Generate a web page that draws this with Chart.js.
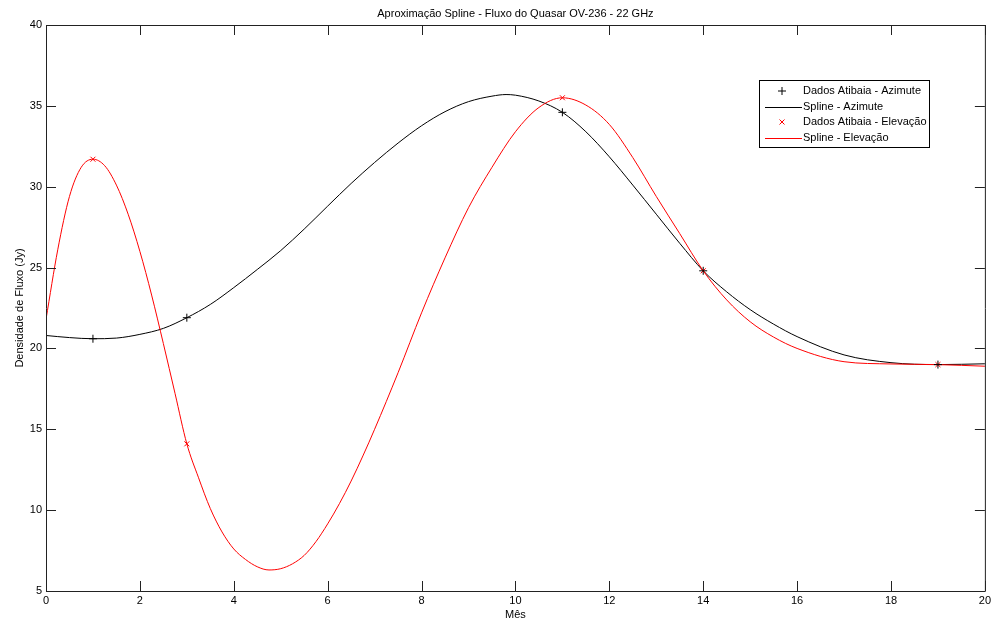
<!DOCTYPE html>
<html>
<head>
<meta charset="utf-8">
<script src="https://cdn.jsdelivr.net/npm/chart.js@4/dist/chart.umd.min.js"></script>
<style>
  html, body { margin: 0; padding: 0; background: #fff; }
  #wrap { width: 994px; height: 626px; }
</style>
</head>
<body>
<div id="wrap"><canvas id="c" width="994" height="626"></canvas></div>
<script>
// ---- data ----
const chartTitle = 'Aproximação Spline - Fluxo do Quasar OV-236 - 22 GHz';
const xTitle = 'Mês';
const yTitle = 'Densidade de Fluxo (Jy)';

const dataMonths = [1, 3, 11, 14, 19];
const dataAzimute = [20.6, 21.9, 34.6, 24.8, 19.0];
const dataElevacao = [31.7, 14.1, 35.5, 24.8, 19.0];

const splineXAz = [0,0.5,1,1.5,2,2.5,3,3.5,4,4.5,5,5.5,6,6.5,7,7.5,8,8.5,9,9.5,9.8,10,10.5,11,11.5,12,12.5,13,13.5,14,14.5,15,15.5,16,17,18,19,20];
const splineYAz = [20.80,20.67,20.60,20.64,20.87,21.24,21.90,22.72,23.76,24.88,26.05,27.38,28.8,30.2,31.5,32.7,33.77,34.64,35.26,35.6,35.7,35.66,35.3,34.6,33.4,31.85,30.1,28.3,26.5,24.8,23.5,22.4,21.5,20.73,19.6,19.12,19.0,19.05];

const splineXEl = [0,0.25,0.5,0.75,1,1.25,1.5,1.75,2,2.25,2.5,2.75,3,3.25,3.5,3.75,4,4.25,4.5,4.75,5,5.25,5.5,5.75,6,6.25,6.5,6.75,7,7.5,8,8.5,9,9.5,10,10.5,11,11.5,12,12.5,13,13.5,14,14.5,15,15.5,16,17,18,19,20];
const splineYEl = [21.8,26.1,29.4,31.2,31.7,31.3,30.1,28.3,26.0,23.3,20.3,17.2,14.1,12.0,10.1,8.65,7.6,6.95,6.5,6.3,6.38,6.68,7.2,8.05,9.15,10.4,11.8,13.35,15.0,18.5,22.2,25.6,28.7,31.2,33.4,34.9,35.5,35.05,33.85,31.8,29.4,27.1,24.8,23.0,21.65,20.7,20.0,19.18,19.04,19.0,18.9];

const seriesLabels = ['Dados Atibaia - Azimute', 'Spline - Azimute', 'Dados Atibaia - Elevação', 'Spline - Elevação'];

const xTicks = [0,2,4,6,8,10,12,14,16,18,20];
const yTicks = [5,10,15,20,25,30,35,40];

// ---- build ----
const pts = (xs, ys) => xs.map((x, i) => ({ x: x, y: ys[i] }));
const FONT = '"Liberation Sans", Arial, sans-serif';

const matlabPlugin = {
  id: 'matlabDecor',
  afterDraw(chart) {
    const { ctx, chartArea: a, scales: { x, y } } = chart;
    ctx.save();
    ctx.strokeStyle = '#222';
    ctx.lineWidth = 1;
    // box
    ctx.beginPath();
    ctx.moveTo(a.left + 0.5, a.top + 0.5);
    ctx.lineTo(a.right + 0.5, a.top + 0.5);
    ctx.lineTo(a.right + 0.5, a.bottom + 0.5);
    ctx.lineTo(a.left + 0.5, a.bottom + 0.5);
    ctx.closePath();
    ctx.stroke();
    // inward ticks
    const TL = 10;
    ctx.beginPath();
    xTicks.forEach(v => {
      const px = Math.round(x.getPixelForValue(v)) + 0.5;
      ctx.moveTo(px, a.bottom); ctx.lineTo(px, a.bottom - TL);
      ctx.moveTo(px, a.top); ctx.lineTo(px, a.top + TL);
    });
    yTicks.forEach(v => {
      const py = Math.round(y.getPixelForValue(v)) + 0.5;
      ctx.moveTo(a.left, py); ctx.lineTo(a.left + TL, py);
      ctx.moveTo(a.right, py); ctx.lineTo(a.right - TL, py);
    });
    ctx.stroke();
    // title
    ctx.fillStyle = '#000';
    ctx.font = '11px ' + FONT;
    ctx.textAlign = 'center';
    ctx.textBaseline = 'alphabetic';
    ctx.fillText(chartTitle, (a.left + a.right) / 2, 17);
    // legend
    const lx = 759, ly = 80, lw = 170, lh = 67;
    ctx.fillStyle = '#fff';
    ctx.fillRect(lx, ly, lw, lh);
    ctx.strokeStyle = '#000';
    ctx.strokeRect(lx + 0.5, ly + 0.5, lw, lh);
    const rows = [91, 106.5, 122, 137.5];
    const ds = chart.data.datasets;
    ds.forEach((d, i) => {
      const ry = rows[i];
      const cx = 782;
      ctx.strokeStyle = d.borderColor;
      ctx.lineWidth = 1;
      ctx.beginPath();
      if (d.showLine === false) {
        if (d.pointStyle === 'cross') {
          ctx.moveTo(cx - 4, ry); ctx.lineTo(cx + 4, ry);
          ctx.moveTo(cx, ry - 4); ctx.lineTo(cx, ry + 4);
        } else {
          ctx.moveTo(cx - 2.5, ry - 2.5); ctx.lineTo(cx + 2.5, ry + 2.5);
          ctx.moveTo(cx - 2.5, ry + 2.5); ctx.lineTo(cx + 2.5, ry - 2.5);
        }
      } else {
        ctx.moveTo(765, Math.round(ry) + 0.5); ctx.lineTo(802, Math.round(ry) + 0.5);
      }
      ctx.stroke();
      ctx.fillStyle = '#000';
      ctx.textAlign = 'left';
      ctx.textBaseline = 'middle';
      ctx.fillText(d.label, 803, ry);
    });
    ctx.restore();
  }
};

new Chart(document.getElementById('c'), {
  type: 'scatter',
  data: {
    datasets: [
      {
        label: seriesLabels[0],
        data: pts(dataMonths, dataAzimute),
        showLine: false,
        pointStyle: 'cross',
        pointRadius: 4,
        borderColor: '#000',
        backgroundColor: '#000',
        borderWidth: 1,
        order: 0
      },
      {
        label: seriesLabels[1],
        data: pts(splineXAz, splineYAz),
        showLine: true,
        pointRadius: 0,
        borderColor: '#000',
        backgroundColor: '#000',
        borderWidth: 1,
        cubicInterpolationMode: 'monotone',
        order: 2
      },
      {
        label: seriesLabels[2],
        data: pts(dataMonths, dataElevacao),
        showLine: false,
        pointStyle: 'crossRot',
        pointRadius: 3.5,
        borderColor: '#ff0000',
        backgroundColor: '#ff0000',
        borderWidth: 1,
        order: 0
      },
      {
        label: seriesLabels[3],
        data: pts(splineXEl, splineYEl),
        showLine: true,
        pointRadius: 0,
        borderColor: '#ff0000',
        backgroundColor: '#ff0000',
        borderWidth: 1,
        cubicInterpolationMode: 'monotone',
        order: 1
      }
    ]
  },
  options: {
    responsive: false,
    animation: false,
    layout: { padding: { top: 25, right: 9, bottom: 0, left: 0 } },
    plugins: {
      legend: { display: false },
      title: { display: false },
      tooltip: { enabled: false }
    },
    scales: {
      x: {
        type: 'linear',
        min: 0, max: 20,
        grid: { display: false, drawTicks: false },
        border: { display: false },
        afterBuildTicks: s => { s.ticks = xTicks.map(v => ({ value: v })); },
        afterFit: s => { s.height = 35; },
        ticks: { color: '#000', padding: 3, maxRotation: 0, autoSkip: false, font: { family: FONT, size: 11 } },
        title: { display: true, text: xTitle, color: '#000', padding: { top: 0, bottom: 4 }, font: { family: FONT, size: 11 } }
      },
      y: {
        type: 'linear',
        min: 5, max: 40,
        grid: { display: false, drawTicks: false },
        border: { display: false },
        afterBuildTicks: s => { s.ticks = yTicks.map(v => ({ value: v })); },
        afterFit: s => { s.width = 46; },
        ticks: { color: '#000', padding: 4, autoSkip: false, font: { family: FONT, size: 11 } },
        title: { display: true, text: yTitle, color: '#000', padding: { top: 13, bottom: 0 }, font: { family: FONT, size: 11 } }
      }
    }
  },
  plugins: [matlabPlugin]
});
</script>
</body>
</html>
